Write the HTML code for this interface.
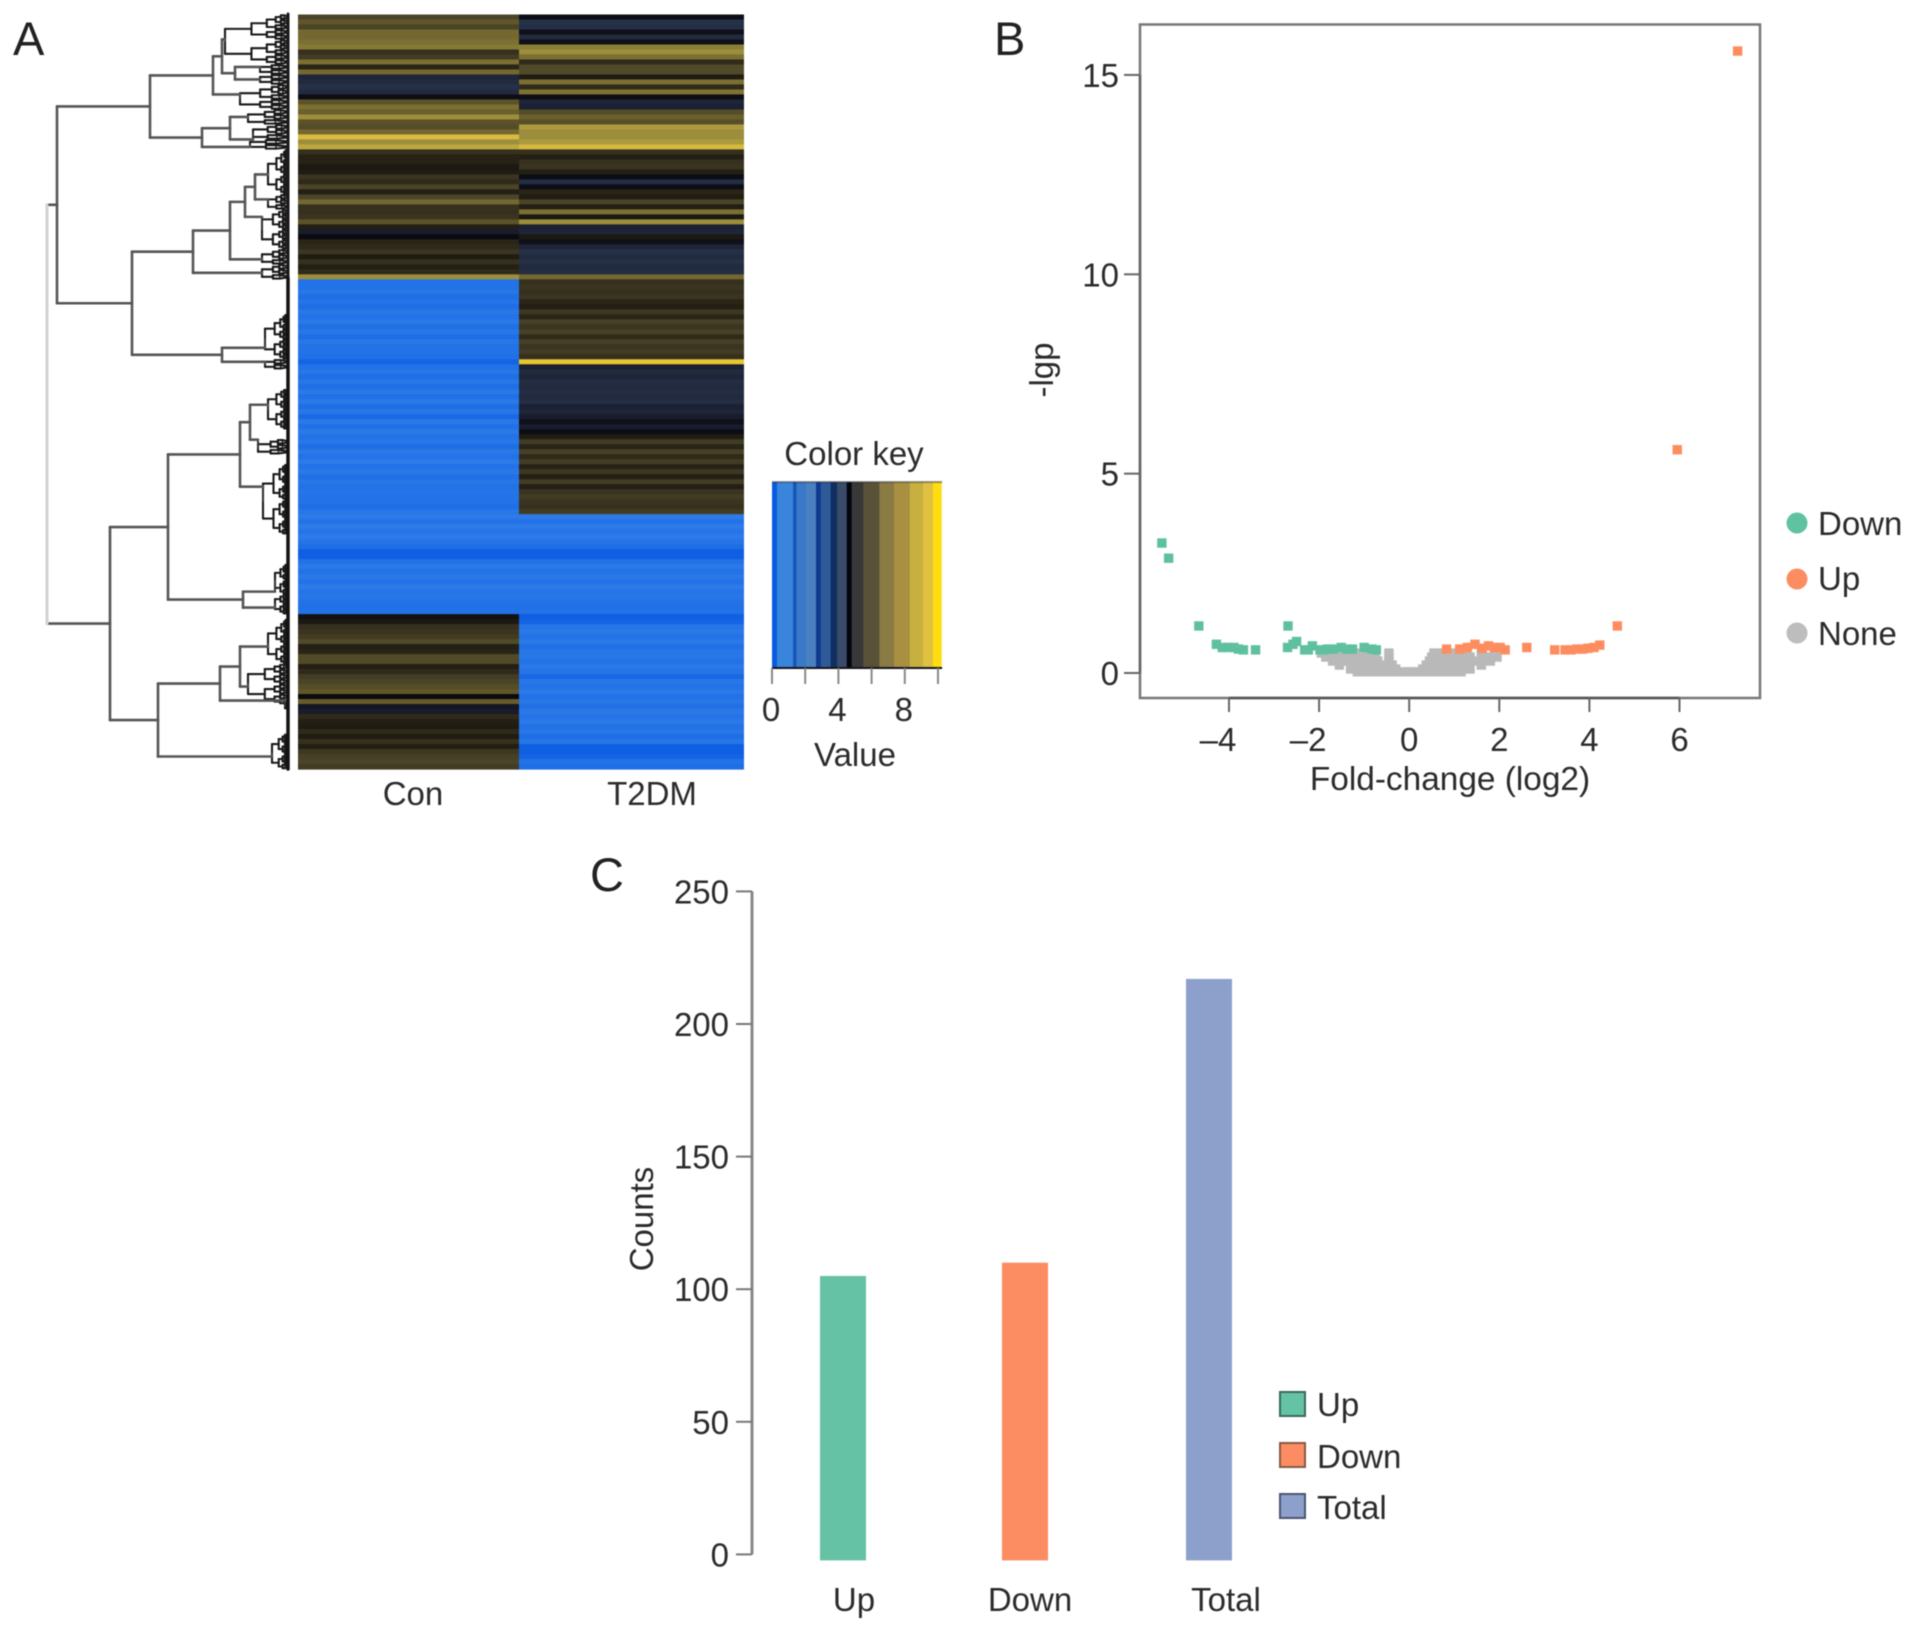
<!DOCTYPE html>
<html lang="en">
<head>
<meta charset="utf-8">
<title>Heatmap, volcano plot and counts</title>
<style>
html,body{margin:0;padding:0;background:#fff;}
svg{display:block;filter:blur(0.6px);}
text{font-family:"Liberation Sans",sans-serif;fill:#2b2b2b;font-size:33px;}
.panel{font-size:47px;fill:#222;}
</style>
</head>
<body>
<svg id="figure" xmlns="http://www.w3.org/2000/svg" width="1913" height="1630" viewBox="0 0 1913 1630">
  <rect width="1913" height="1630" fill="#fff"/>

  <g id="panel-a">
    <text class="panel" x="13" y="55">A</text>
    <g id="dendrogram"></g>
    <g id="heatmap"></g>
    <text x="413" y="805" text-anchor="middle">Con</text>
    <text x="652" y="805" text-anchor="middle">T2DM</text>
    <text x="854" y="465" text-anchor="middle">Color key</text>
    <g id="colorkey"></g>
    <text x="855" y="766" text-anchor="middle">Value</text>
  </g>

  <g id="panel-b">
    <text class="panel" x="994" y="55">B</text>
    <rect x="1140" y="24.5" width="620" height="673.5" fill="none" stroke="#777" stroke-width="2.5"/>
    <g id="volcano"></g>
    <text transform="translate(1053,370) rotate(-90)" text-anchor="middle">-lgp</text>
    <text x="1450" y="790" text-anchor="middle" style="font-size:33.4px">Fold-change (log2)</text>
    <g>
      <circle cx="1797" cy="523" r="10.5" fill="#5fc3a2"/>
      <text x="1818" y="535">Down</text>
    </g>
    <g>
      <circle cx="1797" cy="579" r="10.5" fill="#fc8d62"/>
      <text x="1818" y="590">Up</text>
    </g>
    <g>
      <circle cx="1797" cy="633" r="10.5" fill="#bdbdbd"/>
      <text x="1818" y="645">None</text>
    </g>
  </g>

  <g id="panel-c">
    <text class="panel" x="590" y="891">C</text>
    <g id="bars"></g>
    <text transform="translate(653,1219) rotate(-90)" text-anchor="middle">Counts</text>
    <g>
      <rect x="1280" y="1392" width="25" height="24" fill="#66c2a5" stroke="#3a6a5c" stroke-width="2"/>
      <text x="1317" y="1416">Up</text>
    </g>
    <g>
      <rect x="1280" y="1443" width="25" height="24" fill="#fc8d62" stroke="#8a5a44" stroke-width="2"/>
      <text x="1317" y="1468">Down</text>
    </g>
    <g>
      <rect x="1280" y="1494" width="25" height="24" fill="#8da0cb" stroke="#4a5670" stroke-width="2"/>
      <text x="1317" y="1519">Total</text>
    </g>
  </g>
</svg>

<script>
/* ---------- Panel A data ---------- */
const conValues = [
6,6.6,6,7,7,7.2,7.5,5.5,5.8,7.2,5.3,7,4.4,4.3,4.1,4.3,4.85,6.5,7.2,6.8,8,6.5,6.3,7,9.3,8,8.6,
5.5,5.25,5.25,5.1,5.15,5.6,5.4,6,5.2,6,7,5.5,5.5,5.6,6.5,5.2,4.6,4.9,5.3,5.4,5.6,5.15,5.5,5.2,5.4,8,
.3,.3,.4,.2,.35,.2,.4,.3,.45,.25,.4,.2,.4,.3,.3,.25,.1,
.3,.4,.2,.4,.2,.45,.25,.45,.2,.4,.15,.45,.25,.45,.3,.4,.2,.45,.3,.5,.3,.45,.25,.4,.3,.35,.3,.3,.2,.4,
.5,.3,.5,.35,.5,.35,.2,.05,.05,.3,.45,.3,.45,.3,.5,.35,.4,.3,.25,.3,
5,5.1,5.5,5.6,5.8,6.2,5.2,5.3,6.2,6.2,5.2,5.4,5.8,6,6.3,6.6,4.9,6.7,4.7,4.6,5.4,5.2,5.15,5.4,5.15,5.5,5.2,5.7,5.9,6,5.8
];
const t2dmValues = [
4.85,4.1,4.15,4.8,4.3,4.8,7.6,8,7.2,5.4,6.2,6.2,5.15,7.2,5.4,7.3,4.85,4.4,4.5,6.3,6.8,6.4,8.3,8,8,8.3,9.2,
5.5,5.2,5.5,5.6,5.2,4.85,4.2,4.85,5.3,5.15,6,5.2,7.2,5.1,8,4.5,4.4,5.1,4.8,4.4,4.1,4.3,4.1,4.3,4.2,7,
5.5,5.6,5.5,5.6,5.3,5.2,5.7,5.3,5.9,5.6,5.9,5.4,5.9,5.6,5.8,5.5,9.6,
4.5,4.3,4.4,4.2,4.3,4.2,4.3,4.2,4.5,4.4,4.6,4.8,4.6,4.85,
5.15,5.8,5.3,5.9,5.4,5.8,5.25,5.7,5.2,5.8,5.2,5.6,5.8,5.6,5.5,5.8,
.5,.3,.5,.35,.5,.35,.2,.05,.05,.3,.45,.3,.45,.3,.5,.35,.4,.3,.25,.3,
.05,.1,.35,.45,.3,.45,.25,.4,.4,.3,.45,.35,.15,.4,.3,.45,.3,.4,.25,.45,.35,.45,.3,.4,.2,.4,.05,.05,.1,.3,.2
];
const heatmapColumns = ['Con', 'T2DM'];
const colorKeyTicks = [0, 2, 4, 6, 8, 10];
const colorKeyLabels = ['0', '', '4', '', '8', ''];
/* merge tree: [height, childA, childB]; a bush (tight leaf cluster) is ['b', height, firstRow, lastRow, attachRow] */
const dendrogramTree =
[24.1,
  [23.1,
    [13.8,
      [7.5,
        [6.6, ['b',6.3,0,9,5], [5.3, ['b',2.8,10,11,10.5], ['b',2.8,12,13,13]]],
        ['b',4.8,14,18,16]],
      [8.6,
        [5.8, ['b',4,19,21,20.5], ['b',3.5,22,24,25]],
        ['b',3.8,25,26,26.5]]],
    [15.6,
      [9.5,
        [5.8,
          [4.3, [3.3, ['b',2,27,35,32], ['b',2,36,38,37]], ['b',2.6,39,46,40.5]],
          ['b',2.6,47,49,49]],
        ['b',2.6,50,52,51.7]],
      [6.6, ['b',2.3,60,68,66.7], ['b',2.3,69,70,69.5]]]],
  [17.8,
    [12,
      [4.8,
        [3.8, ['b',2,75,82,78.1], ['b',3,85,87,85.1]],
        ['b',2.5,90,103,94.5]],
      [4.5, ['b',1.3,110,115,115.5], ['b',1.3,116,119,118.7]]],
    [13,
      [6.8,
        [4.8, ['b',2,121,129,126.5], ['b',4,130,137,134.5]],
        ['b',.3,138,138,137.3]],
      ['b',1.6,144,150,148.5]]]];

/* ---------- Panel B data ---------- */
const volcanoXTicks = [-4, -2, 0, 2, 4, 6];
const volcanoYTicks = [0, 5, 10, 15];
const downFold = [-5.49,-5.34,-4.67,-2.69,-4.28,-4.15,-4.02,-3.89,-3.79,-3.68,-3.41,-2.7,-2.58,-2.5,-2.32,-2.24,-2.15,-1.98,-1.9,-1.81,-1.68,-1.51,-1.39,-1.26,-1,-.83,-.73];
const downLgp  = [3.26,2.88,1.18,1.18,.72,.64,.64,.64,.6,.58,.58,.64,.72,.79,.58,.58,.68,.58,.58,.6,.6,.64,.6,.6,.64,.6,.58];
const upFold = [.83,1.12,1.29,1.46,1.62,1.76,1.89,2.02,2.13,2.61,3.23,3.46,3.59,3.72,3.85,3.97,4.1,4.23,4.62,5.95,7.29];
const upLgp  = [.6,.6,.64,.72,.62,.68,.64,.64,.58,.64,.58,.58,.58,.6,.6,.62,.64,.7,1.18,5.6,15.6];
const noneFold = [
-1.95,-1.7,-1.45,-1.2,-.95,-.75,-.45,.55,.7,.95,1.25,1.6,1.9,
-1.85,-1.6,-1.3,-1.05,-.8,-.45,.5,.75,1.1,1.35,1.7,1.95,
-1.7,-1.45,-1.2,-.95,-.7,-.45,.45,.7,.95,1.2,1.5,1.8,
-1.55,-1.3,-1.05,-.8,-.55,-.38,.38,.55,.8,1.05,1.3,1.6,
-1.3,-1.1,-.9,-.7,-.5,-.3,.3,.5,.7,.9,1.1,1.35,
-1.15,-.95,-.75,-.55,-.35,-.15,0,.15,.35,.55,.75,.95,1.15];
const noneLgp = [
.5,.5,.5,.5,.5,.5,.5,.5,.5,.5,.5,.5,.5,
.4,.4,.4,.4,.4,.4,.4,.4,.4,.4,.4,.4,
.3,.3,.3,.3,.3,.3,.3,.3,.3,.3,.3,.3,
.2,.2,.2,.2,.2,.2,.2,.2,.2,.2,.2,.2,
.1,.1,.1,.1,.1,.1,.1,.1,.1,.1,.1,.1,
.03,.03,.03,.03,.03,.03,.03,.03,.03,.03,.03,.03,.03];

/* ---------- Panel C data ---------- */
const barCategories = ['Up', 'Down', 'Total'];
const barCounts = [105, 110, 217];
const barTicks = [0, 50, 100, 150, 200, 250];

/* ---------- helpers ---------- */
const NS = 'http://www.w3.org/2000/svg';
function mk(tag, parent, props) {
  const el = document.createElementNS(NS, tag);
  for (const k in props) el.setAttribute(k, props[k]);
  parent.appendChild(el);
  return el;
}
const scaleStops = [
[0,'#0a5ae0'],[.2,'#1e6ee6'],[.6,'#327fe8'],[1.1,'#3a85dc'],[2,'#3a78c8'],[2.9,'#1a4490'],[3.65,'#1a3464'],
[4,'#26344e'],[4.3,'#222a3e'],[4.6,'#181c2c'],[4.9,'#0a0a10'],
[5.15,'#201c12'],[5.5,'#36301e'],[6,'#4a4428'],[6.5,'#5c5228'],[7,'#746830'],[7.5,'#857a34'],[8,'#9c8e3c'],
[8.7,'#c2ac40'],[9.4,'#dcbe40'],[10,'#ffdd10']];
function hexRgb(h){return [1,3,5].map(i=>parseInt(h.substr(i,2),16));}
function valueColor(v){
  if (v <= 0) return scaleStops[0][1];
  for (let i = 1; i < scaleStops.length; i++) {
    if (v <= scaleStops[i][0]) {
      const a = scaleStops[i-1], b = scaleStops[i];
      const t = (v-a[0])/(b[0]-a[0]);
      const ca = hexRgb(a[1]), cb = hexRgb(b[1]);
      return 'rgb(' + ca.map((c,j)=>Math.round(c+(cb[j]-c)*t)).join(',') + ')';
    }
  }
  return scaleStops[scaleStops.length-1][1];
}

/* ---------- Panel A: heatmap ---------- */
const heatTop = 14.5, heatBottom = 769;
const rowCount = conValues.length;
const rowStep = (heatBottom-heatTop)/rowCount;
const rowY = r => heatTop + rowStep*r;
const heatG = document.getElementById('heatmap');
const colEdges = [298, 519, 744];
[conValues, t2dmValues].forEach((vals, c) => {
  vals.forEach((v, r) => {
    const cell = mk('rect', heatG, {x: colEdges[c], y: rowY(r), width: colEdges[c+1]-colEdges[c], height: rowStep+.6, fill: valueColor(v)});
    
    
  });
});

/* ---------- Panel A: colour key (striped legend) ---------- */
const keyG = document.getElementById('colorkey');
const keyX = v => 772 + 16.6*v;
const keyTop = 482, keyBottom = 668;
const keyBandEdges = [0,.3,1.27,1.47,2.06,2.65,2.94,3.53,3.92,4.5,4.8,5.5,6.47,7.35,8.3,9.1,9.7,10.2];
const keyBandFill = ['#0a5ae0','#3a85dc','#1555b8','#3a78c8','#4a80c0','#103a90','#2f5a98','#0f2f60','#3a4a6a','#050510','#383838','#5a5238','#8a7a44','#a89040','#c8b040','#e0c040','#ffdd10'];
keyBandFill.forEach((fill, i) => {
  const band = mk('rect', keyG, {x: keyX(keyBandEdges[i]), y: keyTop, width: keyX(keyBandEdges[i+1])-keyX(keyBandEdges[i])+.4, height: keyBottom-keyTop, fill});
  
  
});
const keyBase = mk('line', keyG, {x1: keyX(0), x2: keyX(10.25), y1: keyBottom, y2: keyBottom, stroke: '#15151c', 'stroke-width': 2});


const keyCap = mk('line', keyG, {x1: keyX(0), x2: keyX(10.25), y1: keyTop, y2: keyTop, stroke: '#222', 'stroke-width': 2, 'stroke-opacity': .45});


colorKeyTicks.forEach((t, i) => {
  const tick = mk('line', keyG, {x1: keyX(t), x2: keyX(t), y1: keyBottom, y2: keyBottom+16, stroke: '#888', 'stroke-width': 2});
  
  
  if (colorKeyLabels[i]) {
    const lab = mk('text', keyG, {x: keyX(t)-1, y: 721, 'text-anchor': 'middle'});
    lab.textContent = colorKeyLabels[i];
    
    
  }
});

/* ---------- Panel A: dendrogram ---------- */
const dendG = document.getElementById('dendrogram');
const treeX = h => 288 - h*10;
function seg(x1, y1, x2, y2, color, w) {
  const l = mk('line', dendG, {x1, y1, x2, y2, stroke: color, 'stroke-width': w, 'stroke-linecap': 'round'});
  
  
}
function drawBush(h, a, b) {
  const dark = '#1a1a1a', w = 2.1;
  if (a === b) {
    const y0 = rowY(a)+.8, y1 = rowY(a)+4.2, hl = h*.55;
    seg(treeX(h), y0, treeX(hl), y0, dark, w);
    seg(treeX(h), y1, treeX(hl), y1, dark, w);
    seg(treeX(h), y0, treeX(h), y1, dark, w);
    seg(treeX(hl), y0, treeX(0), y0+1.2, dark, w);
    seg(treeX(hl), y1, treeX(0), y1-1.2, dark, w);
    seg(treeX(hl), y0, treeX(hl), y1, dark, 1.4);
    return rowY(a)+2.5;
  }
  const m = (a+b)>>1, h2 = h*.58;
  const ya = drawBush(h2, a, m);
  const yb = drawBush(h2, m+1, b);
  seg(treeX(h), ya, treeX(h2), ya, dark, w);
  seg(treeX(h), yb, treeX(h2), yb, dark, w);
  seg(treeX(h), ya, treeX(h), yb, dark, w);
  return (ya+yb)/2;
}
function drawNode(node, isRoot) {
  if (node[0] === 'b') {
    const h = node[1], mid = drawBush(h, node[2], node[3]);
    const at = rowY(node[4]);
    seg(treeX(h), at, treeX(h), mid, '#333', 2);
    return {y: at, h};
  }
  const A = drawNode(node[1]), B = drawNode(node[2]);
  const h = node[0], color = '#555', x = treeX(h);
  seg(x, A.y, treeX(A.h), A.y, color, 2.6);
  seg(x, B.y, treeX(B.h), B.y, color, 2.6);
  seg(x, A.y, x, B.y, isRoot ? '#d2d2d2' : color, isRoot ? 3 : 2.6);
  return {y: (A.y+B.y)/2, h};
}
drawNode(dendrogramTree, true);
seg(288, 14, 288, 278, '#1a1a1a', 3);
seg(288, 278, 288, 769, '#111', 3.5);

/* ---------- Panel B: volcano ---------- */
const volG = document.getElementById('volcano');
const fx = v => 1409.2 + 45.05*v;
const fy = v => 673 - 39.87*v;
volcanoYTicks.forEach(t => {
  const tick = mk('line', volG, {x1: 1124, x2: 1140, y1: fy(t), y2: fy(t), stroke: '#666', 'stroke-width': 2});
  
  
  const lab = mk('text', volG, {x: 1119, y: fy(t)+12, 'text-anchor': 'end'});
  lab.textContent = String(t);
  
  
});
const volAxisY = mk('line', volG, {x1: 1140, x2: 1140, y1: fy(15), y2: fy(0), stroke: '#666', 'stroke-width': 2.5});


const volAxisX = mk('line', volG, {x1: fx(-4), x2: fx(6), y1: 698, y2: 698, stroke: '#555', 'stroke-width': 2.5});


volcanoXTicks.forEach(t => {
  const tick = mk('line', volG, {x1: fx(t), x2: fx(t), y1: 698, y2: 712, stroke: '#666', 'stroke-width': 2});
  
  
  const lab = mk('text', volG, {x: fx(t) - (t < 0 ? 11 : 0), y: 751, 'text-anchor': 'middle'});
  lab.textContent = t < 0 ? '\u2013' + (-t) : String(t);
  
  
});
function drawPoints(xs, ys, color, name) {
  xs.forEach((vx, i) => {
    const pt = mk('rect', volG, {x: fx(vx)-4.7, y: fy(ys[i])-4.7, width: 9.4, height: 9.4, fill: color});
    
    
  });
}
drawPoints(noneFold, noneLgp, '#b9b9b9', 'point-none');
drawPoints(downFold, downLgp, '#5fc0a0', 'point-down');
drawPoints(upFold, upLgp, '#fd8d5f', 'point-up');

/* ---------- Panel C: bars ---------- */
const barG = document.getElementById('bars');
const by = v => 1554.4 - 2.652*v;
const barCx = i => 843 + 183*i;
const barFill = ['#66c2a5', '#fc8d62', '#8da0cb'];
const barNudge = [0, -1, 0];
const catNudge = [11, 4, 17];
const barAxis = mk('line', barG, {x1: 752, x2: 752, y1: by(250), y2: by(0), stroke: '#888', 'stroke-width': 3});


barTicks.forEach(t => {
  const tick = mk('line', barG, {x1: 736, x2: 752, y1: by(t), y2: by(t), stroke: '#777', 'stroke-width': 2});
  
  
  const lab = mk('text', barG, {x: 729, y: by(t)+12, 'text-anchor': 'end'});
  lab.textContent = String(t);
  
  
});
barCategories.forEach((c, i) => {
  const bar = mk('rect', barG, {x: barCx(i)-23+barNudge[i], y: by(barCounts[i]), width: 46, height: by(0)-by(barCounts[i])+6, fill: barFill[i]});
  
  
  const lab = mk('text', barG, {x: barCx(i)+catNudge[i], y: 1611, 'text-anchor': 'middle'});
  lab.textContent = c;
  
  
});
</script>
</body>
</html>
